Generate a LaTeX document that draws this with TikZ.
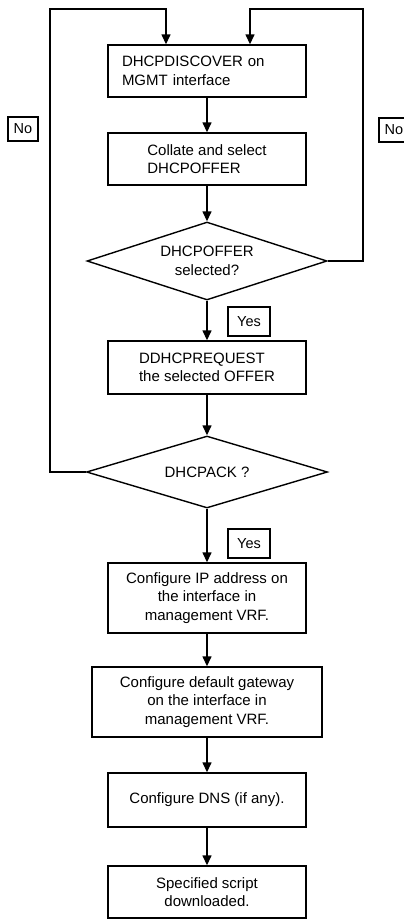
\documentclass[tikz,border=0pt]{standalone}
\usepackage{fontspec}
\setmainfont{Liberation Sans}
\usetikzlibrary{shapes.geometric,arrows.meta}

\begin{document}
\begin{tikzpicture}[x=1pt, y=-1pt,
    procbox/.style={draw, line width=1.4pt, minimum width=198pt, inner sep=2pt,
      align=center, font=\fontsize{15}{18.5}\selectfont},
    decision/.style={draw, diamond, line width=1.4pt, inner sep=0pt, aspect=3,
      align=center, font=\fontsize{15}{18.5}\selectfont},
    tag/.style={draw, line width=1.4pt, inner sep=1pt, font=\fontsize{14.5}{17}\selectfont},
    flow/.style={line width=1.4pt, -{Triangle[width=9pt,length=10pt]}}]

    \useasboundingbox (0,0) rectangle (404,919);

    % Discovery and offer
    \node[procbox, minimum height=52pt, text width=170pt, align=left]
        (discover) at (207,71) {DHCPDISCOVER on\\MGMT interface};
    \node[procbox, minimum height=52pt, align=left] (collate) at (207,159)
        {Collate and select\\DHCPOFFER};
    \node[decision, minimum width=240pt, minimum height=78pt] (offerq) at (207,261)
        {DHCPOFFER\\selected?};

    % Request and acknowledge
    \node[procbox, minimum height=53pt, align=left] (request) at (207,367.5)
        {DDHCPREQUEST\\the selected OFFER};
    \node[decision, minimum width=241pt, minimum height=72pt] (ackq) at (207,472)
        {DHCPACK ?};

    % Configuration steps
    \node[procbox, minimum height=70pt] (ipaddr) at (207,598)
        {Configure IP address on\\the interface in\\management VRF.};
    \node[procbox, minimum width=230pt, minimum height=70pt] (gateway) at (207,702)
        {Configure default gateway\\on the interface in\\management VRF.};
    \node[procbox, minimum height=54pt] (dns) at (207,800)
        {Configure DNS (if any).};
    \node[procbox, minimum height=52pt] (script) at (207,892)
        {Specified script\\downloaded.};

    % Yes / No labels
    \node[tag, minimum width=42pt, minimum height=29pt] (yesoffer) at (249,321.5) {Yes};
    \node[tag, minimum width=42pt, minimum height=29pt] (yesack) at (249,543.5) {Yes};
    \node[tag, minimum width=30pt, minimum height=24pt] (noack) at (23,129) {No};
    \node[tag, minimum width=30pt, minimum height=24pt] (nooffer) at (394,130) {No};

    % Main flow
    \draw[flow] (discover) -- (collate);
    \draw[flow] (collate) -- (offerq);
    \draw[flow] (offerq) -- (request);
    \draw[flow] (request) -- (ackq);
    \draw[flow] (ackq) -- (ipaddr);
    \draw[flow] (ipaddr) -- (gateway);
    \draw[flow] (gateway) -- (dns);
    \draw[flow] (dns) -- (script);

    % Loops back to discovery
    \coordinate (lcorner) at (50,9);
    \coordinate (rcorner) at (363,9);
    \draw[flow] (ackq.west) -| (lcorner) -| ([xshift=-41pt]discover.north);
    \draw[flow] (offerq.east) -| (rcorner) -| ([xshift=43pt]discover.north);
\end{tikzpicture}
\end{document}
